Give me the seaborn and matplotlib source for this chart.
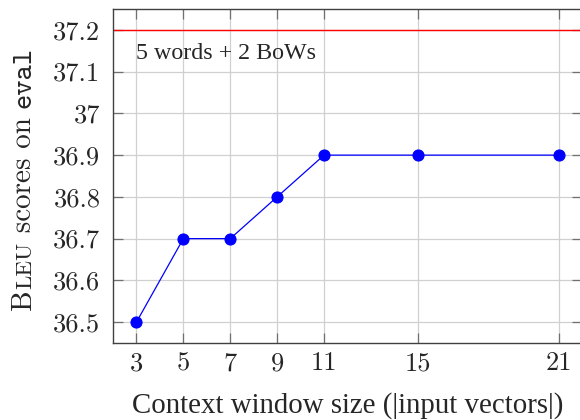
import matplotlib
matplotlib.use('Agg')
import matplotlib.pyplot as plt
import seaborn as sns
import pandas as pd

# Data
window_sizes = [3, 5, 7, 9, 11, 15, 21]
bleu_scores = [36.5, 36.7, 36.7, 36.8, 36.9, 36.9, 36.9]
baseline_score = 37.2
baseline_label = '5 words + 2 BoWs'
y_ticks = [36.5, 36.6, 36.7, 36.8, 36.9, 37.0, 37.1, 37.2]
y_tick_labels = ['36.5', '36.6', '36.7', '36.8', '36.9', '37', '37.1', '37.2']

df = pd.DataFrame({'window': window_sizes, 'bleu': bleu_scores})

sns.set_style('whitegrid')

fig = plt.figure(figsize=(5.8, 4.2), dpi=100)
ax = fig.add_axes([113 / 580, 77 / 420, 469 / 580, 334 / 420])

sns.lineplot(data=df, x='window', y='bleu', ax=ax, color='#0000ff', linewidth=0.9,
             marker='o', markersize=8, markeredgecolor='#0000ff', zorder=3)
ax.axhline(baseline_score, color='#ff0000', linewidth=1.0, zorder=2)
ax.text(3, 37.13, baseline_label, fontsize=17.3, family='Liberation Serif',
        ha='left', va='baseline')

ax.set_xlim(2, 22)
ax.set_ylim(36.45, 37.25)
ax.set_xticks(window_sizes)
ax.set_xticklabels([str(w) for w in window_sizes], fontfamily='cmr10', fontsize=19)
ax.set_yticks(y_ticks)
ax.set_yticklabels(y_tick_labels, fontfamily='cmr10', fontsize=19)

ax.grid(True, color='#d0d0d0', linewidth=0.9)
for s in ax.spines.values():
    s.set_color('#404040')
    s.set_linewidth(1.0)
ax.tick_params(axis='both', which='major', direction='in', length=7, width=0.9,
               color='#707070', top=True, right=True, bottom=True, left=True)
ax.tick_params(axis='x', pad=6)
ax.tick_params(axis='y', pad=9)

ax.set_xlabel('Context window size (|input vectors|)', fontsize=20.8,
              family='Liberation Serif', va='baseline')
ax.xaxis.set_label_coords(0.5, (7 - 77) / 334)
ax.set_ylabel('')

# y label built from pieces: small-caps BLEU, roman text, typewriter "eval"
fig.canvas.draw()
renderer = fig.canvas.get_renderer()
pieces = [('B', 21, 'cmr10'), ('LEU', 16.5, 'cmr10'),
          (' scores on ', 21, 'cmr10'), ('eval', 21, 'cmtt10')]
widths = []
for s, fs, fam in pieces:
    t = fig.text(0, 0, s, fontsize=fs, family=fam)
    widths.append(t.get_window_extent(renderer).width)
    t.remove()
total = sum(widths)
cur = 420 - 310
for (s, fs, fam), w in zip(pieces, widths):
    fig.text(31 / 580, cur / 420, s, fontsize=fs, family=fam, rotation=90,
             rotation_mode='anchor', ha='left', va='baseline')
    cur += w

fig.savefig('out.png', dpi=100)
